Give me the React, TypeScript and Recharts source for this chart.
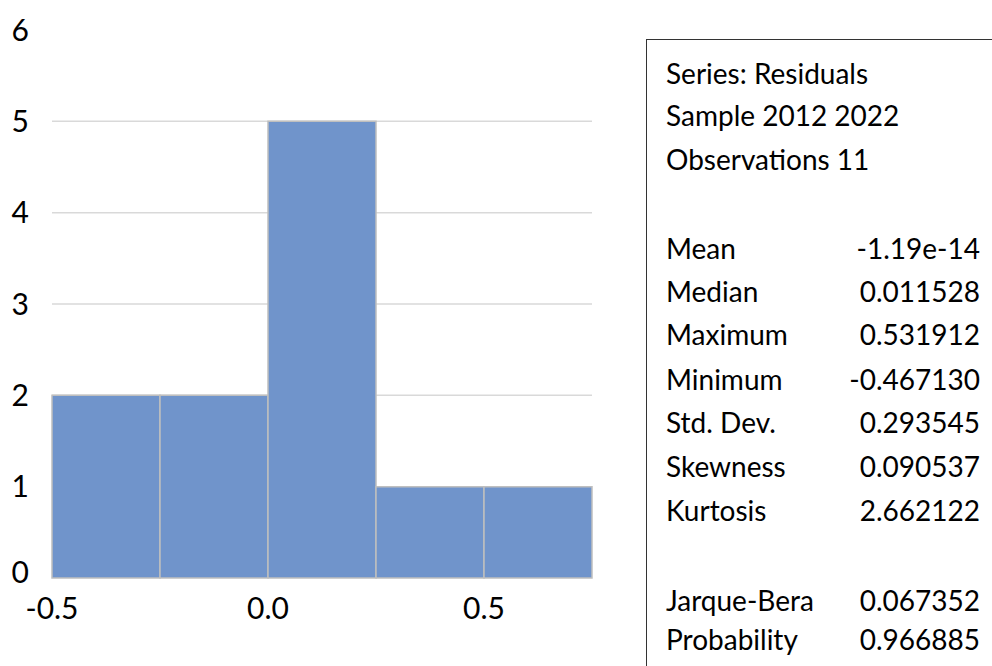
import React from "react";
import { BarChart, Bar, XAxis, YAxis, CartesianGrid } from "recharts";

const binMids = [-0.375, -0.125, 0.125, 0.375, 0.625];
const counts = [2, 2, 5, 1, 1];
const xTicks = [-0.5, 0, 0.5];
const yTicks = [0, 1, 2, 3, 4, 5, 6];
const gridValues = [1, 2, 3, 4, 5];

const headerLines = ["Series: Residuals", "Sample 2012 2022", "Observations 11"];
const statLabels = ["Mean", "Median", "Maximum", "Minimum", "Std. Dev.", "Skewness", "Kurtosis"];
const statValues = ["-1.19e-14", "0.011528", "0.531912", "-0.467130", "0.293545", "0.090537", "2.662122"];
const testLabels = ["Jarque-Bera", "Probability"];
const testValues = ["0.067352", "0.966885"];

const data = binMids.map((m, i) => ({ mid: m, count: counts[i] }));

const FONT = "Lato, 'Open Sans', sans-serif";

const YTick = (props: any) => {
  const { x, y, payload } = props;
  const shift = payload.value === 0 ? -6 : 0;
  return (
    <text x={x} y={y + shift} dy="0.355em" textAnchor="end" fill="#000" fontSize={30} fontFamily={FONT}>
      {payload.value}
    </text>
  );
};

export default function App() {
  const lineStyle = (y: number): React.CSSProperties => ({
    position: "absolute",
    top: y - 39 - 22,
    left: 0,
    right: 0,
    height: 44,
    lineHeight: "44px",
  });
  const headerY = [72, 114, 158];
  const statY = [247, 290, 333, 378, 421, 465, 509];
  const testY = [599, 638];
  return (
    <div style={{ position: "absolute", left: 0, top: 0, width: 992, height: 666, background: "#fff", overflow: "hidden", fontFamily: FONT }}>
      <BarChart
        width={620}
        height={666}
        data={data}
        margin={{ top: 30, right: 28, bottom: 48, left: 0 }}
        barCategoryGap={0}
        barGap={0}
      >
        <CartesianGrid horizontal={true} vertical={false} stroke="#D9D9D9" strokeWidth={1.5} horizontalValues={gridValues} />
        <XAxis
          dataKey="mid"
          type="number"
          domain={[-0.5, 0.75]}
          ticks={xTicks}
          tickFormatter={(v: number) => v.toFixed(1)}
          axisLine={false}
          tickLine={false}
          tickSize={0}
          tickMargin={20}
          height={40}
          interval={0}
          tick={{ fill: "#000", fontSize: 30, fontFamily: FONT }}
        />
        <YAxis
          domain={[0, 6]}
          ticks={yTicks}
          width={52}
          axisLine={false}
          tickLine={false}
          tickSize={0}
          tickMargin={23}
          interval={0}
          tick={<YTick />}
        />
        <Bar dataKey="count" fill="#7094CB" stroke="#BFBFBF" strokeWidth={1.5} isAnimationActive={false} />
      </BarChart>
      <div
        style={{
          position: "absolute",
          left: 646,
          top: 39,
          width: 360,
          height: 640,
          borderLeft: "1.5px solid #333",
          borderTop: "1.5px solid #333",
          fontSize: 28,
          color: "#000",
          boxSizing: "border-box",
        }}
      >
        {headerLines.map((t, i) => (
          <div key={t} style={{ ...lineStyle(headerY[i]), paddingLeft: 19 }}>{t}</div>
        ))}
        {statLabels.map((t, i) => (
          <div key={t} style={lineStyle(statY[i])}>
            <span style={{ position: "absolute", left: 19 }}>{t}</span>
            <span style={{ position: "absolute", right: 360 - 334 }}>{statValues[i]}</span>
          </div>
        ))}
        {testLabels.map((t, i) => (
          <div key={t} style={lineStyle(testY[i])}>
            <span style={{ position: "absolute", left: 19 }}>{t}</span>
            <span style={{ position: "absolute", right: 360 - 334 }}>{testValues[i]}</span>
          </div>
        ))}
      </div>
    </div>
  );
}
